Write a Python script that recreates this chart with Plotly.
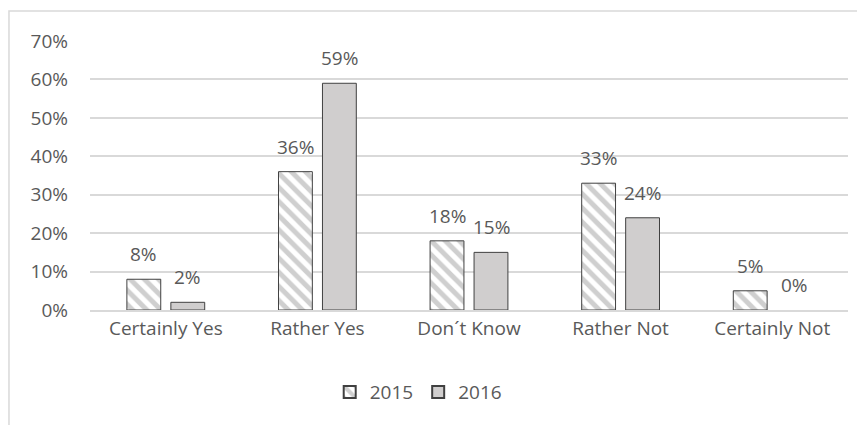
import plotly.graph_objects as go

categories = ["Certainly Yes", "Rather Yes", "Don´t Know", "Rather Not", "Certainly Not"]
values_2015 = [0.08, 0.36, 0.18, 0.33, 0.05]
values_2016 = [0.02, 0.59, 0.15, 0.24, 0.00]
tick_vals = [0, 0.1, 0.2, 0.3, 0.4, 0.5, 0.6, 0.7]
tick_text = ["0%", "10%", "20%", "30%", "40%", "50%", "60%", "70%"]

FONT = "Open Sans"
GRAY_TXT = "#595959"
FS = 19

def outline_widths(vals):
    return [1 if v > 0 else 0 for v in vals]

fig = go.Figure()
fig.add_trace(go.Bar(
    name="2015", x=categories, y=values_2015,
    marker=dict(color="white", line=dict(color="#404040", width=outline_widths(values_2015)),
                pattern=dict(shape="\\", fgcolor="#a0a0a0", bgcolor="white", size=10, solidity=0.5)),
))
fig.add_trace(go.Bar(
    name="2016", x=categories, y=values_2016,
    marker=dict(color="#d0cece", line=dict(color="#404040", width=outline_widths(values_2016))),
))

annotations = []
for vals, xs in ((values_2015, -22), (values_2016, 22)):
    for c, v in zip(categories, vals):
        annotations.append(dict(x=c, y=v, xref="x", yref="y", text=f"{round(v*100)}%",
                                showarrow=False, xshift=xs, yshift=25, yanchor="middle",
                                font=dict(family=FONT, size=FS, color=GRAY_TXT)))

fig.update_layout(
    width=865, height=425,
    margin=dict(l=82, r=25, t=33, b=122.5, autoexpand=False),
    paper_bgcolor="white", plot_bgcolor="white",
    barmode="group", bargap=0.42, bargroupgap=0.23,
    font=dict(family=FONT, size=FS, color=GRAY_TXT),
    xaxis=dict(showgrid=False, showline=True, linecolor="#d9d9d9", linewidth=1.5,
               ticks="", tickfont=dict(size=FS, color=GRAY_TXT)),
    yaxis=dict(range=[0, 0.7], tickvals=tick_vals, ticktext=tick_text,
               showgrid=True, gridcolor="#d9d9d9", gridwidth=1.5, zeroline=False,
               ticks="", ticklabelstandoff=21, tickfont=dict(size=FS, color=GRAY_TXT)),
    legend=dict(orientation="h", x=0.433, xanchor="center", y=-0.305, yanchor="middle",
                font=dict(size=FS, color=GRAY_TXT), itemwidth=30, traceorder="normal",
                itemsizing="constant"),
    annotations=annotations,
    shapes=[dict(type="rect", xref="paper", yref="paper", x0=-0.1069, x1=1.2, y0=-1, y1=1.1113,
                 line=dict(color="#d9d9d9", width=1.5), layer="below")],
)

fig.write_html("out.html")
